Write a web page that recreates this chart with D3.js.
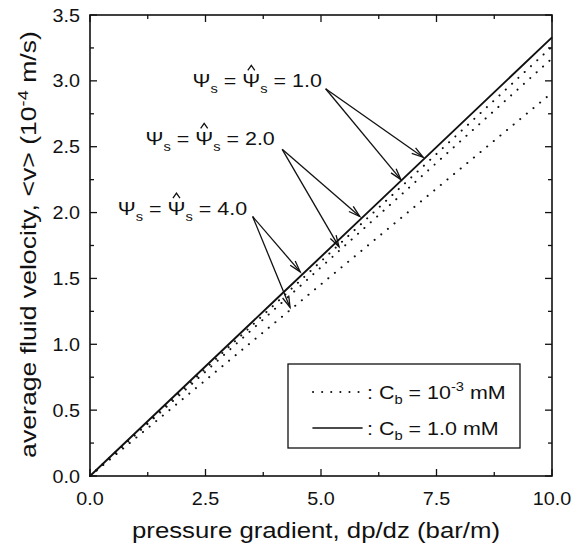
<!DOCTYPE html>
<html><head><meta charset="utf-8">
<script src="https://cdn.jsdelivr.net/npm/d3@7"></script>
<style>body{margin:0;background:#fff}text{font-family:"Liberation Sans",Arial,sans-serif;fill:#111}</style>
</head><body><svg id="c" width="574" height="550"></svg>
<script>
// ---- data ----
const xVals = [0, 2, 4, 6, 8, 10];
const solidCb1 = [0, 0.666, 1.332, 1.998, 2.664, 3.33];        // Cb = 1.0 mM (all psi)
const dotPsi1 = [0, 0.652, 1.304, 1.956, 2.608, 3.26];        // Cb = 1e-3 mM, psi = 1.0
const dotPsi2 = [0, 0.634, 1.268, 1.902, 2.536, 3.17];        // psi = 2.0
const dotPsi4 = [0, 0.582, 1.164, 1.746, 2.328, 2.91];        // psi = 4.0
const xTicks = [0, 2.5, 5, 7.5, 10];
const xTickLabels = ["0.0", "2.5", "5.0", "7.5", "10.0"];
const yTicks = [0, 0.5, 1, 1.5, 2, 2.5, 3, 3.5];
const yTickLabels = ["0.0","0.5","1.0","1.5","2.0","2.5","3.0","3.5"];
const psiLabels = ["1.0", "2.0", "4.0"];
const labelPos = [[5.02, 2.95], [4.0, 2.51], [3.40, 1.98]];
const arrowTails = [[5.1, 2.94], [4.16, 2.48], [3.52, 1.97]];
const arrowHeads = [[[7.21, 2.42], [6.73, 2.25]], [[5.84, 1.97], [5.39, 1.74]], [[4.55, 1.55], [4.33, 1.28]]];

const svg = d3.select("#c");
const L = 90, R = 552, T = 15, B = 476;
const x = d3.scaleLinear().domain([0, 10]).range([L, R]);
const y = d3.scaleLinear().domain([0, 3.5]).range([B, T]);
const SX = 1.13; // horizontal stretch of the scanned lettering

// ticks (inward on all four sides)
const minorX = d3.range(0, 10.01, 1.25), minorY = d3.range(0, 3.51, 0.25);
const g = svg.append("g").attr("stroke", "#111").attr("stroke-width", 1.3);
minorX.forEach(v => {
  const major = xTicks.some(t => Math.abs(t - v) < 1e-6), len = major ? 7 : 4;
  g.append("line").attr("x1", x(v)).attr("x2", x(v)).attr("y1", B).attr("y2", B - len);
  g.append("line").attr("x1", x(v)).attr("x2", x(v)).attr("y1", T).attr("y2", T + len);
});
minorY.forEach(v => {
  const major = yTicks.some(t => Math.abs(t - v) < 1e-6), len = major ? 7 : 4;
  g.append("line").attr("y1", y(v)).attr("y2", y(v)).attr("x1", L).attr("x2", L + len);
  g.append("line").attr("y1", y(v)).attr("y2", y(v)).attr("x1", R).attr("x2", R - len);
});
svg.append("rect").attr("x", L).attr("y", T).attr("width", R - L).attr("height", B - T)
  .attr("fill", "none").attr("stroke", "#111").attr("stroke-width", 1.6);

// tick labels
svg.selectAll(".xl").data(xTicks).enter().append("text")
  .attr("transform", d => `translate(${x(d)},505) scale(${SX},1)`).attr("text-anchor", "middle")
  .attr("font-size", 17.5).text((d, i) => xTickLabels[i]);
svg.selectAll(".yl").data(yTicks).enter().append("text")
  .attr("transform", d => `translate(80,${y(d) + 6.5}) scale(${SX},1)`).attr("text-anchor", "end")
  .attr("font-size", 17.5).text((d, i) => yTickLabels[i]);

// axis titles
svg.append("text").attr("x", (L + R) / 2 - 5).attr("y", 538).attr("text-anchor", "middle")
  .attr("font-size", 22).attr("textLength", 368).attr("lengthAdjust", "spacingAndGlyphs")
  .text("pressure gradient, dp/dz (bar/m)");
const yt = svg.append("text").attr("transform", `translate(36,${(T + B) / 2 - 1}) rotate(-90)`)
  .attr("text-anchor", "middle").attr("font-size", 22);
yt.append("tspan").text("average fluid velocity, <v> (10");
yt.append("tspan").attr("dy", -8).attr("font-size", 15).text("-4");
yt.append("tspan").attr("dy", 8).text(" m/s)");
{ // stretch y title to reference length
  const w = yt.node().getComputedTextLength();
  yt.attr("transform", `translate(36,${(T + B) / 2 - 1}) rotate(-90) scale(${427 / w},1)`);
}

// lines
const line = d3.line().x((d, i) => x(xVals[i])).y(d => y(d));
[dotPsi1, dotPsi2, dotPsi4].forEach(s => {
  svg.append("path").attr("d", line(s)).attr("fill", "none").attr("stroke", "#111")
    .attr("stroke-width", 2).attr("stroke-dasharray", "0.1 8.5").attr("stroke-linecap", "round");
});
svg.append("path").attr("d", line(solidCb1)).attr("fill", "none").attr("stroke", "#111").attr("stroke-width", 1.9);

// annotations
psiLabels.forEach((p, i) => {
  const gx = x(labelPos[i][0]), gy = y(labelPos[i][1]);
  const t = svg.append("text").attr("transform", `translate(${gx},${gy}) scale(${SX},1)`)
    .attr("text-anchor", "end").attr("font-size", 19);
  t.append("tspan").text("Ψ");
  t.append("tspan").attr("dy", 6).attr("font-size", 13).text("s");
  t.append("tspan").attr("dy", -6).text(" = ");
  const hatPsi = t.append("tspan").text("Ψ");
  t.append("tspan").attr("dy", 6).attr("font-size", 13).text("s");
  t.append("tspan").attr("dy", -6).text(" = " + p);
  // circumflex over the second Ψ
  const s0 = hatPsi.node().getStartPositionOfChar(0).x, e0 = hatPsi.node().getEndPositionOfChar(0).x;
  const cx = gx + SX * (s0 + e0) / 2, cy = gy - 17;
  svg.append("path").attr("fill", "none").attr("stroke", "#111").attr("stroke-width", 1.3)
    .attr("d", `M${cx - 3.5},${cy}L${cx},${cy - 5}L${cx + 3.5},${cy}`);
  arrowHeads[i].forEach(h => {
    const x0 = x(arrowTails[i][0]), y0 = y(arrowTails[i][1]), x1 = x(h[0]), y1 = y(h[1]);
    const a = Math.atan2(y1 - y0, x1 - x0), len = 12, sp = 0.28;
    svg.append("line").attr("x1", x0).attr("y1", y0).attr("x2", x1).attr("y2", y1)
      .attr("stroke", "#111").attr("stroke-width", 1.3);
    svg.append("path").attr("fill", "none").attr("stroke", "#111").attr("stroke-width", 1.3)
      .attr("d", `M${x1 - len * Math.cos(a - sp)},${y1 - len * Math.sin(a - sp)}L${x1},${y1}L${x1 - len * Math.cos(a + sp)},${y1 - len * Math.sin(a + sp)}`);
  });
});

// legend
svg.append("rect").attr("x", 288).attr("y", 364).attr("width", 232).attr("height", 84)
  .attr("fill", "#fff").attr("stroke", "#111").attr("stroke-width", 1.3);
const legRows = [{dash: "0.1 9", y: 392, sup: "-3", val: "10"}, {dash: null, y: 428, val: "1.0"}];
legRows.forEach(r => {
  const l = svg.append("line").attr("x1", 313).attr("x2", 362).attr("y1", r.y).attr("y2", r.y)
    .attr("stroke", "#111").attr("stroke-width", r.dash ? 2 : 1.6).attr("stroke-linecap", "round");
  if (r.dash) l.attr("stroke-dasharray", r.dash);
  const t = svg.append("text").attr("transform", `translate(367,${r.y + 7}) scale(${SX},1)`).attr("font-size", 19);
  t.append("tspan").text(": C");
  t.append("tspan").attr("dy", 5).attr("font-size", 13).text("b");
  t.append("tspan").attr("dy", -5).text(" = " + r.val);
  if (r.sup) {
    t.append("tspan").attr("dy", -8).attr("font-size", 13).text(r.sup);
    t.append("tspan").attr("dy", 8).text(" mM");
  } else t.append("tspan").text(" mM");
});
</script></body></html>
